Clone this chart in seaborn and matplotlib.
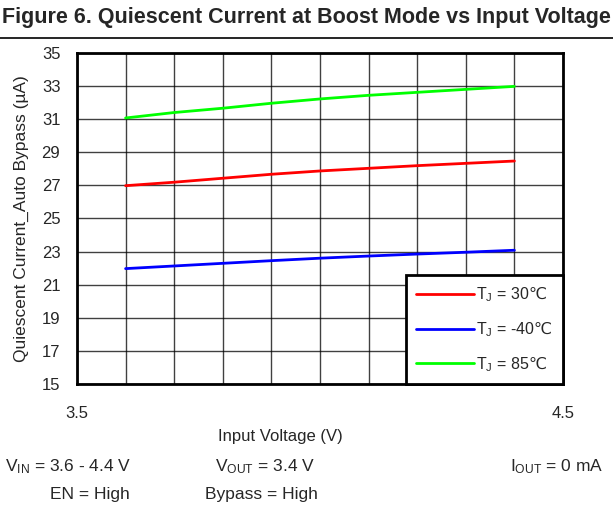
import numpy as np
import pandas as pd
import seaborn as sns
import matplotlib
matplotlib.use('Agg')
import matplotlib.pyplot as plt
from matplotlib.lines import Line2D

# data
vin = [3.6, 3.7, 3.8, 3.9, 4.0, 4.1, 4.2, 4.3, 4.4]
iq_30c = [26.98, 27.19, 27.43, 27.67, 27.87, 28.03, 28.19, 28.33, 28.47]
iq_m40c = [21.97, 22.13, 22.29, 22.45, 22.60, 22.73, 22.85, 22.96, 23.08]
iq_85c = [31.07, 31.40, 31.66, 31.96, 32.22, 32.44, 32.62, 32.80, 32.98]
series_labels = ['T$_{\\mathrm{J}}$ = 30$\\mathsf{℃}$',
                 'T$_{\\mathrm{J}}$ = -40$\\mathsf{℃}$',
                 'T$_{\\mathrm{J}}$ = 85$\\mathsf{℃}$']
series_colors = ['#ff0000', '#0000ff', '#00ff00']
y_ticks = list(range(15, 36, 2))
x_ticks = [3.5, 4.5]

sns.set_style('white')
plt.rcParams['font.family'] = ['Liberation Sans', 'DejaVu Sans']
plt.rcParams['mathtext.fontset'] = 'custom'
plt.rcParams['mathtext.rm'] = 'Liberation Sans'
plt.rcParams['mathtext.it'] = 'Liberation Sans:italic'
plt.rcParams['mathtext.bf'] = 'Liberation Sans:bold'
plt.rcParams['mathtext.sf'] = 'DejaVu Sans'

df = pd.DataFrame({
    'vin': vin * 3,
    'iq': iq_30c + iq_m40c + iq_85c,
    'series': [series_labels[0]] * len(vin) + [series_labels[1]] * len(vin) + [series_labels[2]] * len(vin),
})

fig = plt.figure(figsize=(6.13, 5.09), dpi=100)
ax = fig.add_axes([0.1256, 0.2456, 0.7928, 0.6504])

sns.lineplot(data=df, x='vin', y='iq', hue='series', palette=dict(zip(series_labels, series_colors)),
             linewidth=2, ax=ax, legend=False)

ax.set_xlim(3.5, 4.5)
ax.set_ylim(15, 35)
ax.set_xticks(np.arange(3.5, 4.55, 0.1), minor=True)
ax.set_xticks(x_ticks)
ax.set_xticklabels(['3.5', '4.5'])
ax.set_yticks(y_ticks)
ax.grid(True, which='both', color='black', linewidth=1, alpha=0.75)
ax.tick_params(which='both', length=0, labelsize=12, pad=12)
ax.tick_params(axis='x', pad=16)
for s in ax.spines.values():
    s.set_color('black')
    s.set_linewidth(2)

ax.set_xlabel('')
ax.set_ylabel('Quiescent Current_Auto Bypass (µA)', fontsize=12.5, labelpad=9)
fig.text(280 / 613, 1 - 437 / 509, 'Input Voltage (V)', fontsize=12, ha='center', va='center')

handles = [Line2D([], [], color=c, linewidth=2) for c in series_colors]
leg = ax.legend(handles, series_labels, loc='lower right', borderaxespad=0, fontsize=11.5,
                frameon=True, fancybox=False, handlelength=3.6, labelspacing=1.0,
                borderpad=0.65, handletextpad=0.15)
leg.get_frame().set_edgecolor('black')
leg.get_frame().set_linewidth(2)
leg.get_frame().set_alpha(1)

fig.text(0.5, 0.966, 'Figure 6. Quiescent Current at Boost Mode vs Input Voltage',
         ha='center', va='center', fontsize=15.5, fontweight='bold')
fig.add_artist(Line2D([0, 1], [1 - 38 / 509, 1 - 38 / 509], color='black', linewidth=1.2))

fs = 12.5
fig.text(5 / 613, 1 - 467 / 509, 'V$_{\\mathrm{IN}}$ = 3.6 - 4.4 V', fontsize=fs, va='center')
fig.text(215 / 613, 1 - 467 / 509, 'V$_{\\mathrm{OUT}}$ = 3.4 V', fontsize=fs, va='center')
fig.text(510 / 613, 1 - 467 / 509, 'I$_{\\mathrm{OUT}}$ = 0 mA', fontsize=fs, va='center')
fig.text(50 / 613, 1 - 495 / 509, 'EN = High', fontsize=fs, va='center')
fig.text(205 / 613, 1 - 495 / 509, 'Bypass = High', fontsize=fs, va='center')

fig.savefig('out.png', dpi=100)
